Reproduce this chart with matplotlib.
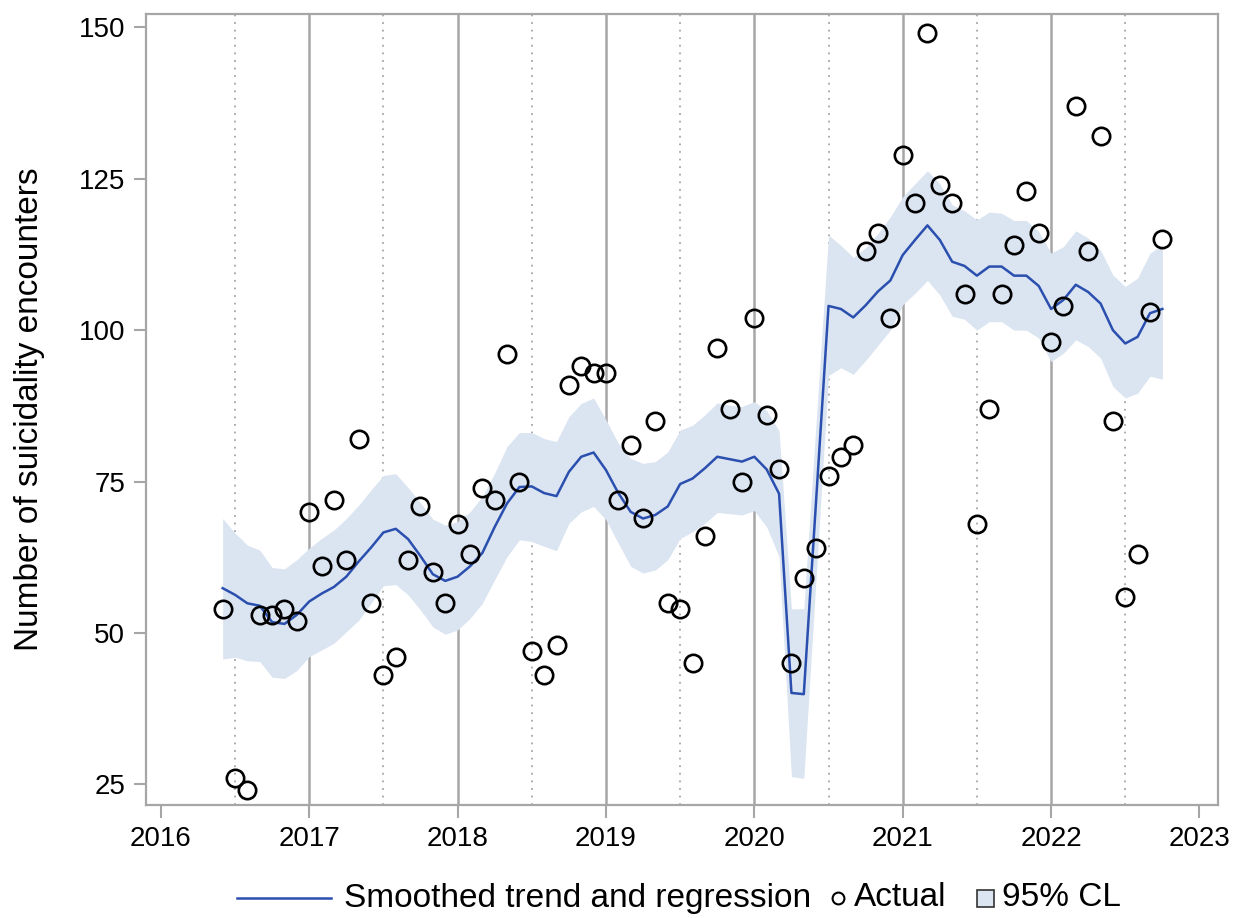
import matplotlib
matplotlib.use("Agg")
import matplotlib.pyplot as plt
from matplotlib.lines import Line2D
from matplotlib.patches import Rectangle
from matplotlib import font_manager
import numpy as np
import pandas as pd

# ---------------- data ----------------
months = pd.date_range("2016-06-01", "2022-10-01", freq="MS")

actual = [54, 26, 24, 53, 53, 54, 52,
          70, 61, 72, 62, 82, 55, 43, 46, 62, 71, 60, 55,
          68, 63, 74, 72, 96, 75, 47, 43, 48, 91, 94, 93,
          93, 72, 81, 69, 85, 55, 54, 45, 66, 97, 87, 75,
          102, 86, 77, 45, 59, 64, 76, 79, 81, 113, 116, 102,
          129, 121, 149, 124, 121, 106, 68, 87, 106, 114, 123, 116,
          98, 104, 137, 113, 132, 85, 56, 63, 103, 115]

trend = [57.4, 56.3, 54.9, 54.5, 51.8, 51.5, 53.0,
         55.2, 56.5, 57.6, 59.3, 61.8, 64.1, 66.6, 67.2, 65.5, 62.7, 59.7, 58.6,
         59.3, 61.0, 63.2, 67.5, 71.4, 74.1, 74.2, 73.1, 72.6, 76.6, 79.1, 79.8,
         76.9, 73.1, 70.0, 68.9, 69.5, 70.9, 74.6, 75.5, 77.2, 79.1, 78.7, 78.3,
         79.1, 77.0, 73.0, 40.1, 39.9, 72.0, 104.0, 103.5, 102.1, 104.1, 106.4, 108.2,
         112.4, 114.9, 117.3, 114.9, 111.3, 110.6, 109.0, 110.5, 110.5, 109.0, 109.0, 107.3,
         103.5, 105.0, 107.5, 106.3, 104.4, 100.0, 97.8, 98.9, 102.8, 103.5]

upper = [68.9, 66.5, 64.5, 63.7, 60.8, 60.6, 62.1,
         64.0, 65.6, 67.0, 68.9, 71.1, 73.6, 76.0, 76.3, 74.0, 71.5, 68.8, 67.8,
         68.4, 70.0, 72.5, 76.4, 80.8, 83.1, 83.1, 82.1, 81.6, 85.7, 87.9, 88.8,
         85.2, 81.3, 78.8, 78.0, 78.3, 79.9, 83.5, 84.3, 86.0, 88.0, 87.6, 87.4,
         88.2, 86.7, 83.4, 54.0, 54.0, 84.9, 115.7, 114.0, 112.0, 113.6, 116.0, 118.7,
         122.0, 124.2, 126.3, 124.2, 120.7, 119.7, 118.2, 119.5, 119.3, 118.1, 118.1, 116.3,
         112.7, 113.8, 116.4, 115.2, 113.2, 109.1, 107.2, 108.6, 112.7, 114.1]

lower = [45.7, 46.0, 45.4, 45.3, 42.7, 42.5, 43.8,
         46.1, 47.2, 48.3, 50.2, 52.1, 54.9, 57.8, 58.0, 56.3, 53.8, 51.0, 49.8,
         50.5, 52.4, 54.9, 58.8, 62.6, 65.4, 65.1, 64.3, 63.6, 68.1, 70.0, 70.9,
         68.7, 64.8, 61.0, 59.9, 60.4, 62.1, 65.6, 66.7, 68.1, 69.9, 69.7, 69.5,
         70.2, 67.5, 62.6, 26.3, 26.0, 59.3, 92.5, 93.8, 92.7, 95.0, 97.5, 100.0,
         104.2, 106.1, 108.2, 105.8, 102.3, 101.8, 100.0, 101.4, 101.4, 100.0, 100.0, 98.7,
         94.8, 96.2, 98.4, 97.3, 95.4, 90.7, 88.8, 89.6, 92.4, 91.9]

year_ticks = [2016, 2017, 2018, 2019, 2020, 2021, 2022, 2023]
y_ticks = [25, 50, 75, 100, 125, 150]
legend_labels = ["Smoothed trend and regression", "Actual", "95% CL"]

# ---------------- style ----------------
names = {f.name for f in font_manager.fontManager.ttflist}
base_font = "Liberation Sans" if "Liberation Sans" in names else "DejaVu Sans"
plt.rcParams["font.family"] = [base_font, "DejaVu Sans"]

LINE_C = "#2a4fae"
BAND_C = "#dbe4f1"
GRID_C = "#a6a6a6"
FRAME_C = "#a6a6a6"

W, H = 1235, 918
fig = plt.figure(figsize=(W / 100, H / 100), dpi=100)
ax = fig.add_axes([146 / W, 1 - 805 / H, (1218 - 146) / W, (805 - 14) / H])

# decimal-year x positions
x = np.array([d.year + (d.month - 1) / 12 for d in months])

ax.fill_between(x, lower, upper, color=BAND_C, lw=0, zorder=1)

for yr in year_ticks[1:-1]:
    ax.axvline(yr, color=GRID_C, lw=1.8, zorder=0.5)
for yr in year_ticks[:-1]:
    ax.axvline(yr + 0.5, color=GRID_C, lw=1.3, ls=(0, (1, 3.2)), zorder=0.5)

ax.plot(x, trend, color=LINE_C, lw=1.8, zorder=3)
ax.plot(x, actual, ls="none", marker="o", ms=12.5, mfc="none", mec="black",
        mew=1.9, zorder=4)

ax.set_xlim(2015.9, 2023.125)
ax.set_ylim(21.6, 152.2)
ax.set_xticks(year_ticks)
ax.set_xticklabels([str(y) for y in year_ticks])
ax.set_yticks(y_ticks)
ax.set_yticklabels([str(v) for v in y_ticks])

for s in ax.spines.values():
    s.set_color(FRAME_C)
    s.set_linewidth(1.6)
ax.tick_params(axis="both", which="major", length=9, width=1.5, color=FRAME_C,
               labelsize=20, labelcolor="black", pad=6)

ax.set_ylabel("Number of suicidality encounters", fontsize=24)
ax.yaxis.set_label_coords(-0.094, 0.5)

# ---------------- legend (drawn in figure pixels) ----------------
def fx(px):
    return px / W

def fy(py):
    return 1 - py / H

ly = 898
fig.add_artist(Line2D([fx(237), fx(331)], [fy(ly), fy(ly)], color=LINE_C, lw=1.8,
                      transform=fig.transFigure))
fig.text(fx(344), fy(ly), legend_labels[0], fontsize=24, va="center", ha="left")
fig.add_artist(Line2D([fx(838)], [fy(ly)], ls="none", marker="o", ms=8.5, mfc="none",
                      mec="black", mew=1.5, transform=fig.transFigure))
fig.text(fx(854), fy(ly), legend_labels[1], fontsize=24, va="center", ha="left")
fig.add_artist(Rectangle((fx(977), fy(ly + 8.5)), 17 / W, 17 / H, facecolor=BAND_C,
                         edgecolor="#333333", lw=1.2, transform=fig.transFigure))
fig.text(fx(1002), fy(ly), legend_labels[2], fontsize=24, va="center", ha="left")

fig.savefig("out.png", dpi=100)
